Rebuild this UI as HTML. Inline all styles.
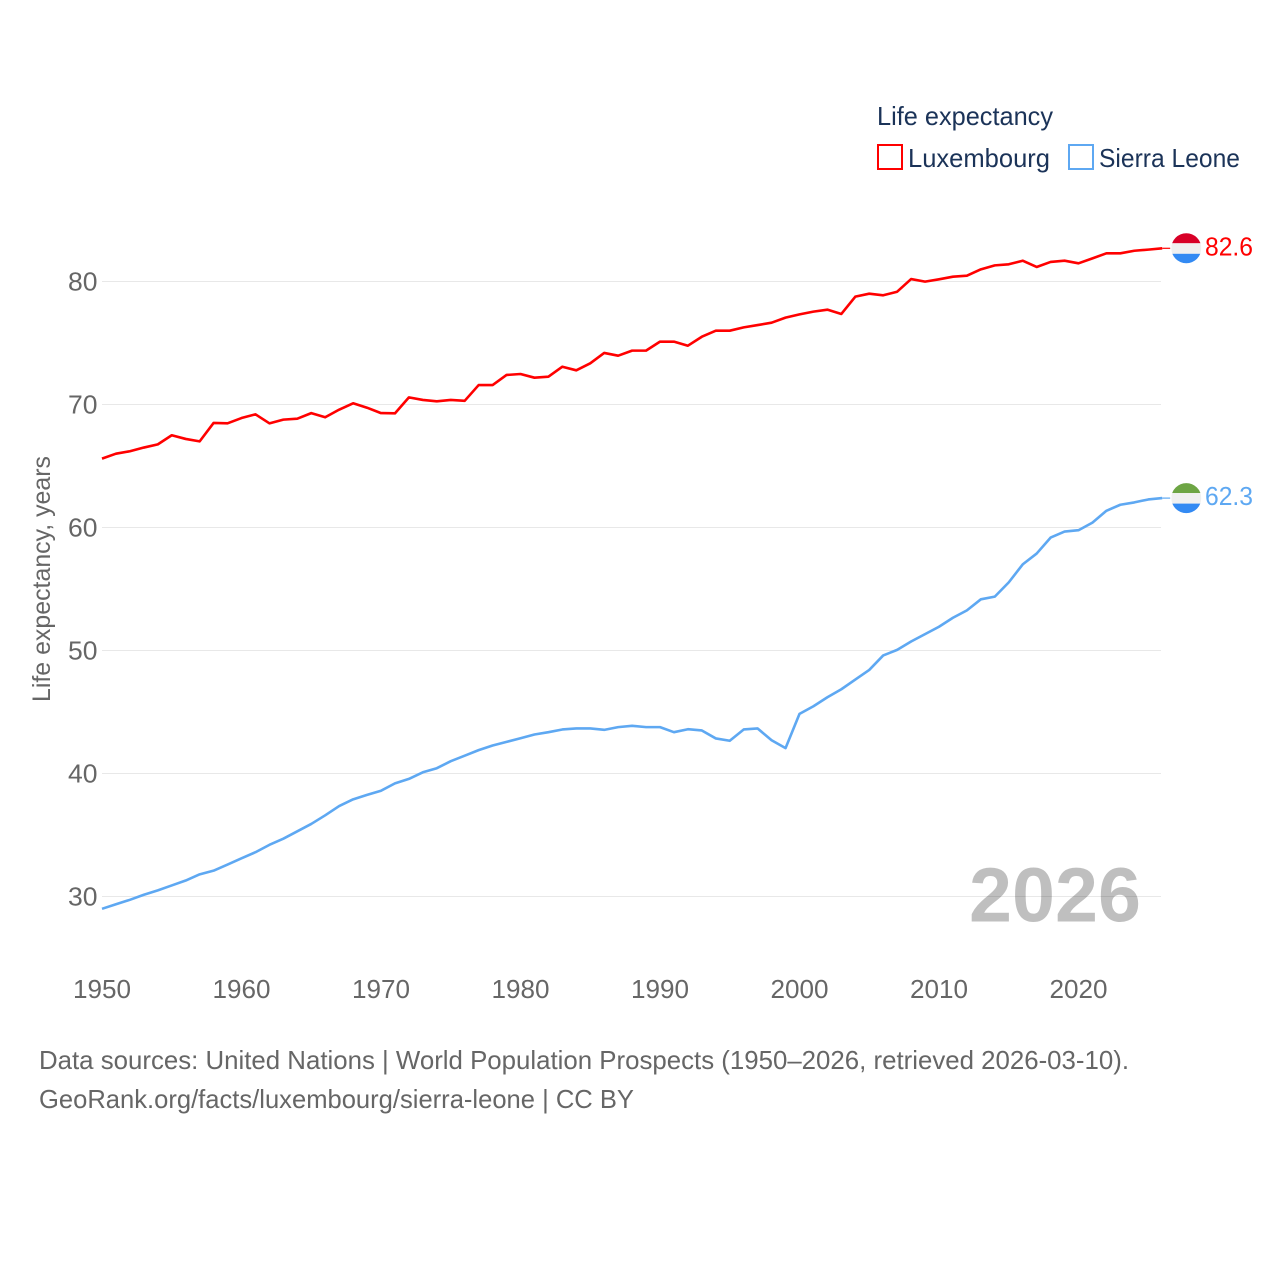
<!DOCTYPE html>
<html lang="en">
<head>
<meta charset="utf-8">
<title>Life expectancy: Luxembourg and Sierra Leone</title>
<style>
  html, body { margin: 0; padding: 0; background: #ffffff; }
  svg { display: block; font-family: "Liberation Sans", "DejaVu Sans", sans-serif; }
</style>
</head>
<body>
<svg id="chart" xmlns="http://www.w3.org/2000/svg" width="1280" height="1280" viewBox="0 0 1280 1280">
  <defs>
    <clipPath id="flag-clip"><circle cx="0" cy="0" r="15"></circle></clipPath>
  </defs>
  <rect x="0" y="0" width="1280" height="1280" fill="#ffffff"></rect>

  <g id="grid"></g>
  <g id="y-ticks"></g>
  <g id="x-ticks"></g>

  <text transform="translate(50,579) rotate(-90)" text-anchor="middle" font-size="25" fill="#666666" textLength="246" lengthAdjust="spacingAndGlyphs">Life expectancy, years</text>

  <text x="969" y="921.5" font-size="77" font-weight="700" fill="#000000" fill-opacity="0.25" textLength="172" lengthAdjust="spacingAndGlyphs">2026</text>

  <g id="series"></g>

  <g id="flag-lux" clip-path="url(#flag-clip)">
    <rect x="-15" y="-16" width="30" height="11" fill="#d80027"></rect>
    <rect x="-15" y="-5" width="30" height="10.5" fill="#f0f0f0"></rect>
    <rect x="-15" y="5.5" width="30" height="11" fill="#338af3"></rect>
  </g>
  <g id="flag-sle" clip-path="url(#flag-clip)">
    <rect x="-15" y="-16" width="30" height="11" fill="#6da544"></rect>
    <rect x="-15" y="-5" width="30" height="10.5" fill="#f0f0f0"></rect>
    <rect x="-15" y="5.5" width="30" height="11" fill="#338af3"></rect>
  </g>
  <text id="label-lux" x="1205" font-size="26" fill="#ff0000" textLength="48" lengthAdjust="spacingAndGlyphs"></text>
  <text id="label-sle" x="1205" font-size="26" fill="#5ea8f2" textLength="48" lengthAdjust="spacingAndGlyphs"></text>

  <g>
    <text x="877" y="125" font-size="26" fill="#1b3358" textLength="176" lengthAdjust="spacingAndGlyphs">Life expectancy</text>
    <g>
      <rect x="878" y="145" width="24" height="24" fill="none" stroke="#ff0000" stroke-width="2"></rect>
      <text x="908" y="167" font-size="26" fill="#1b3358" textLength="142" lengthAdjust="spacingAndGlyphs">Luxembourg</text>
    </g>
    <g>
      <rect x="1069" y="145" width="24" height="24" fill="none" stroke="#5ea8f2" stroke-width="2"></rect>
      <text x="1099" y="167" font-size="26" fill="#1b3358" textLength="141" lengthAdjust="spacingAndGlyphs">Sierra Leone</text>
    </g>
  </g>

  <text x="39" y="1069" font-size="26" fill="#666666" textLength="1090" lengthAdjust="spacingAndGlyphs">Data sources: United Nations | World Population Prospects (1950–2026, retrieved 2026-03-10).</text>
  <text x="39" y="1108" font-size="26" fill="#666666" textLength="595" lengthAdjust="spacingAndGlyphs">GeoRank.org/facts/luxembourg/sierra-leone | CC BY</text>
</svg>

<script>
const firstYear = 1950;
const yTickValues = [80, 70, 60, 50, 40, 30];
const xTickYears = [1950, 1960, 1970, 1980, 1990, 2000, 2010, 2020];
const luxembourgValues = [
  65.6,66.0,66.2,66.5,66.76,67.5,67.2,67.0,68.5,68.47,
  68.9,69.2,68.47,68.77,68.85,69.3,68.96,69.58,70.1,69.74,
  69.3,69.28,70.58,70.37,70.26,70.37,70.3,71.58,71.58,72.4,
  72.48,72.18,72.26,73.07,72.78,73.35,74.19,73.97,74.38,74.38,
  75.11,75.11,74.78,75.51,76.0,76.0,76.27,76.46,76.65,77.06,
  77.33,77.55,77.71,77.36,78.77,79.01,78.88,79.17,80.2,79.99,
  80.18,80.39,80.47,80.99,81.31,81.4,81.69,81.18,81.59,81.69,
  81.48,81.88,82.29,82.29,82.5,82.59,82.7
];
const sierraLeoneValues = [
  29.0,29.37,29.73,30.14,30.5,30.9,31.3,31.8,32.1,32.6,
  33.1,33.6,34.2,34.7,35.3,35.9,36.6,37.35,37.9,38.26,
  38.6,39.2,39.56,40.1,40.43,41.0,41.45,41.9,42.28,42.57,
  42.87,43.17,43.36,43.58,43.66,43.66,43.55,43.77,43.88,43.77,
  43.77,43.36,43.6,43.5,42.85,42.66,43.58,43.66,42.7,42.06,
  44.85,45.47,46.2,46.85,47.64,48.42,49.6,50.05,50.73,51.33,
  51.93,52.66,53.26,54.16,54.38,55.54,57.0,57.88,59.18,59.67,
  59.78,60.4,61.36,61.85,62.04,62.28,62.39
];
const endValueLabels = ["82.6", "62.3"];

const NS = "http://www.w3.org/2000/svg";
function xScale(year) { return 102 + (year - 1950) * 13.95; }
function yScale(value) { return 281.5 + (80 - value) * 12.3; }
function make(tag, attrs, parent) {
  const el = document.createElementNS(NS, tag);
  for (const key in attrs) el.setAttribute(key, attrs[key]);
  parent.appendChild(el);
  return el;
}

const gridGroup = document.getElementById("grid");
const yTickGroup = document.getElementById("y-ticks");
const xTickGroup = document.getElementById("x-ticks");
const seriesGroup = document.getElementById("series");

yTickValues.forEach(function (v) {
  const line = make("line", { x1: 102, x2: 1161, y1: yScale(v), y2: yScale(v), stroke: "#e8e8e8", "stroke-width": 1 }, gridGroup);
  
  
  const label = make("text", { x: 97.5, y: yScale(v) + 9, "text-anchor": "end", "font-size": 26, fill: "#666666", textLength: 29.5, lengthAdjust: "spacingAndGlyphs" }, yTickGroup);
  
  
  label.textContent = v;
});

xTickYears.forEach(function (yr) {
  const label = make("text", { x: xScale(yr), y: 998, "text-anchor": "middle", "font-size": 26, fill: "#666666", textLength: 58, lengthAdjust: "spacingAndGlyphs" }, xTickGroup);
  
  
  label.textContent = yr;
});

function drawSeries(values, color, name) {
  const pts = values.map(function (v, i) {
    return xScale(firstYear + i).toFixed(2) + "," + yScale(v).toFixed(2);
  }).join(" ");
  const line = make("polyline", { points: pts, fill: "none", stroke: color, "stroke-width": 2.6, "stroke-linejoin": "round", "stroke-linecap": "butt" }, seriesGroup);
  
  
  const lastY = yScale(values[values.length - 1]);
  const lastX = xScale(firstYear + values.length - 1);
  const stub = make("line", { x1: lastX, x2: lastX + 8, y1: lastY, y2: lastY, stroke: color, "stroke-width": 1.2 }, seriesGroup);
  
  
  return lastY;
}

const luxEndY = drawSeries(luxembourgValues, "#ff0000", "luxembourg");
const sleEndY = drawSeries(sierraLeoneValues, "#5ea8f2", "sierra-leone");

document.getElementById("flag-lux").setAttribute("transform", "translate(1186.3," + luxEndY.toFixed(2) + ")");
document.getElementById("flag-sle").setAttribute("transform", "translate(1186.3," + sleEndY.toFixed(2) + ")");
const luxLabel = document.getElementById("label-lux");
luxLabel.setAttribute("y", (luxEndY + 7).toFixed(2));
luxLabel.textContent = endValueLabels[0];
const sleLabel = document.getElementById("label-sle");
sleLabel.setAttribute("y", (sleEndY + 7).toFixed(2));
sleLabel.textContent = endValueLabels[1];
</script>
</body>
</html>
